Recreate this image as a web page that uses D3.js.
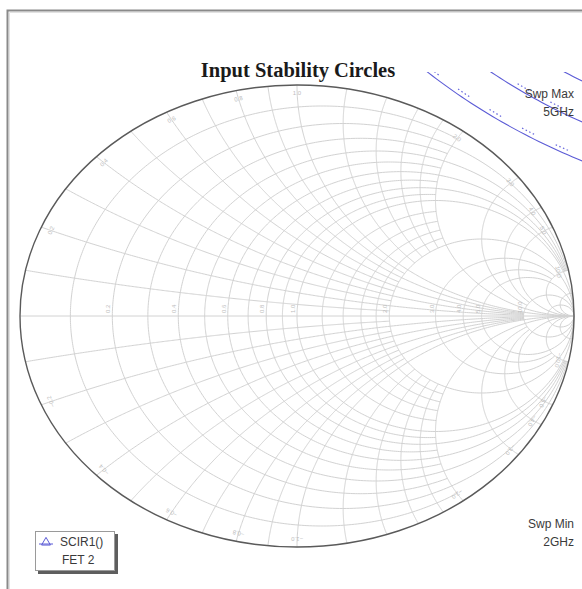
<!DOCTYPE html>
<html><head><meta charset="utf-8">
<script src="https://cdn.jsdelivr.net/npm/d3@7"></script>
<style>html,body{margin:0;padding:0;background:#fff;} svg{display:block;}</style>
</head><body>
<svg id="chart" width="582" height="589"></svg>
<script>
// ---- Smith chart grid: normalized resistance circles and the reactance limit each is drawn to
const fineResistance   = [0.1, 0.3, 0.5, 0.7, 0.9, 1.2, 1.4, 1.6, 1.8];
const mediumResistance = [0.2, 0.4, 0.6, 0.8, 3, 4];
const majorResistance  = [1, 2, 5, 10, 20];
// reactance arcs (drawn for +x and -x)
const fineReactance    = [0.1, 0.3, 0.5, 0.7, 0.9, 1.2, 1.4, 1.6, 1.8];
const mediumReactance  = [0.2, 0.4, 0.6, 0.8, 3, 4];
const majorReactance   = [1, 2, 5, 10, 20];
// limits where the fine / medium lines stop
const fineLimit = 2, mediumLimit = 10;

// grid labels
const resistanceLabels = [0.2, 0.4, 0.6, 0.8, 1, 2, 3, 4, 5, 10];
const reactanceLabels  = [0.2, 0.4, 0.6, 0.8, 1, 2, 3, 4, 5, 10];

// ---- Input stability circles SCIR1() of FET 2 (reflection-coefficient plane)
const circleCenterRe = [2.03, 2.03, 2.03];
const circleCenterIm = [2.72, 2.72, 2.72];
const circleRadius   = [2.28, 2.13, 1.975];

const svg = d3.select("#chart");
const W = 582, H = 589;

const sx = d3.scaleLinear().domain([-1, 1]).range([20, 574]);
const sy = d3.scaleLinear().domain([-1, 1]).range([547, 85]);

// reflection coefficient for z = r + jx
function gamma(r, x) {
  const den = (r + 1) * (r + 1) + x * x;
  return [(r * r - 1 + x * x) / den, (2 * x) / den];
}
const line = d3.line().x(d => sx(d[0])).y(d => sy(d[1]));

// outer frame
svg.append("rect").attr("x", 0).attr("y", 0).attr("width", W).attr("height", H).attr("fill", "#fff");
svg.append("path").attr("d", `M7.5,${H} V10.5 H${W}`).attr("fill", "none")
  .attr("stroke", "#8a8a8a").attr("stroke-width", 2);
svg.append("path").attr("d", `M9.5,${H} V12.5 H${W}`).attr("fill", "none")
  .attr("stroke", "#e2e2e2").attr("stroke-width", 1);

const grid = svg.append("g").attr("fill", "none").attr("stroke", "#d2d2d2").attr("stroke-width", 1);

function resistancePath(r, xmax) {
  const lim = isFinite(xmax) ? Math.atan(xmax) : Math.PI / 2 - 1e-4;
  return d3.range(0, 401).map(i => {
    const u = -lim + 2 * lim * i / 400;
    return gamma(r, Math.tan(u));
  });
}
function reactancePath(x, rmax) {
  const lim = isFinite(rmax) ? Math.atan(rmax) : Math.PI / 2 - 1e-4;
  return d3.range(0, 301).map(i => gamma(Math.tan(lim * i / 300), x));
}

const circles = [
  ...fineResistance.map(r => [r, fineLimit]),
  ...mediumResistance.map(r => [r, mediumLimit]),
  ...majorResistance.map(r => [r, Infinity])
];
grid.selectAll("path.r").data(circles).join("path").attr("class", "r")
  .attr("d", d => line(resistancePath(d[0], d[1])));

const arcs = [
  ...fineReactance.map(x => [x, fineLimit]),
  ...mediumReactance.map(x => [x, mediumLimit]),
  ...majorReactance.map(x => [x, Infinity])
].flatMap(d => [d, [-d[0], d[1]]]);
grid.selectAll("path.x").data(arcs).join("path").attr("class", "x")
  .attr("d", d => line(reactancePath(d[0], d[1])));

// real axis
grid.append("path").attr("d", line([[-1, 0], [1, 0]]));

// grid labels
const lab = svg.append("g").attr("font-family", "Liberation Sans, Arial, sans-serif")
  .attr("font-size", 6).attr("fill", "#bdbdbd");
lab.selectAll("text.r").data(resistanceLabels).join("text").attr("class", "r")
  .attr("transform", d => `translate(${sx(gamma(d, 0)[0]) - 2},${sy(0) - 3}) rotate(-90)`)
  .text(d => d3.format(".1f")(d));
lab.selectAll("text.x").data(reactanceLabels.flatMap(v => [v, -v])).join("text").attr("class", "x")
  .attr("text-anchor", "middle")
  .attr("transform", d => {
    const g = gamma(0, d);
    const px = sx(g[0] * 0.955), py = sy(g[1] * 0.955);
    const ang = Math.atan2(-(g[1]), g[0]) * 180 / Math.PI + 90;
    return `translate(${px},${py}) rotate(${ang})`;
  })
  .text(d => d3.format(".1f")(d));

// outer rim
svg.append("ellipse").attr("cx", sx(0)).attr("cy", sy(0))
  .attr("rx", sx(1) - sx(0)).attr("ry", sy(-1) - sy(0))
  .attr("fill", "none").attr("stroke", "#5a5a5a").attr("stroke-width", 1.4);

// stability circles, clipped to the plotting area below the title strip
svg.append("clipPath").attr("id", "plotClip").append("rect")
  .attr("x", 9).attr("y", 72).attr("width", W - 9).attr("height", H - 72);
const stab = svg.append("g").attr("clip-path", "url(#plotClip)").attr("fill", "none");
const scData = circleRadius.map((rad, i) => ({ cx: circleCenterRe[i], cy: circleCenterIm[i], rad }));
const circPts = (c, rad) => d3.range(0, 721).map(i => {
  const a = 2 * Math.PI * i / 720;
  return [c.cx + rad * Math.cos(a), c.cy + rad * Math.sin(a)];
});
stab.selectAll("path.sc").data(scData).join("path").attr("class", "sc")
  .attr("d", d => line(circPts(d, d.rad)))
  .attr("stroke", "#5b5bd6").attr("stroke-width", 1.1);
// dotted side marks the unstable region
stab.selectAll("path.sd").data(scData).join("path").attr("class", "sd")
  .attr("d", d => line(circPts(d, d.rad - 0.018)))
  .attr("stroke", "#6666dd").attr("stroke-width", 1.2)
  .attr("stroke-dasharray", "1.5,2.5,1.5,2.5,1.5,2.5,1.5,24");

// title
svg.append("text").attr("x", 298).attr("y", 77).attr("text-anchor", "middle")
  .attr("font-family", "Liberation Serif, Times New Roman, serif").attr("font-weight", "bold")
  .attr("font-size", 20.5).attr("fill", "#1a1a1a").text("Input Stability Circles");

// sweep markers
const note = svg.append("g").attr("font-family", "Liberation Sans, Arial, sans-serif")
  .attr("font-size", 12).attr("fill", "#3a3a3a").attr("text-anchor", "end");
note.append("text").attr("x", 574).attr("y", 98).text("Swp Max");
note.append("text").attr("x", 574).attr("y", 116).text("5GHz");
note.append("text").attr("x", 574).attr("y", 528).text("Swp Min");
note.append("text").attr("x", 574).attr("y", 546).text("2GHz");

// legend
const leg = svg.append("g");
leg.append("rect").attr("x", 38).attr("y", 534).attr("width", 80).attr("height", 40).attr("fill", "#5e5e5e");
leg.append("rect").attr("x", 35.5).attr("y", 531.5).attr("width", 79).attr("height", 39)
  .attr("fill", "#fff").attr("stroke", "#9a9a9a");
leg.append("line").attr("x1", 39).attr("x2", 53).attr("y1", 544).attr("y2", 544).attr("stroke", "#5b5bd6");
leg.append("path").attr("d", d3.symbol(d3.symbolTriangle, 34)()).attr("transform", "translate(46,542.5)")
  .attr("fill", "none").attr("stroke", "#5b5bd6");
leg.append("text").attr("x", 60).attr("y", 546).attr("font-family", "Liberation Sans, Arial, sans-serif")
  .attr("font-size", 12).attr("fill", "#3a3a3a").text("SCIR1()");
leg.append("text").attr("x", 62).attr("y", 564)
  .attr("font-family", "Liberation Sans, Arial, sans-serif")
  .attr("font-size", 12).attr("fill", "#3a3a3a").text("FET 2");
</script>
</body></html>
